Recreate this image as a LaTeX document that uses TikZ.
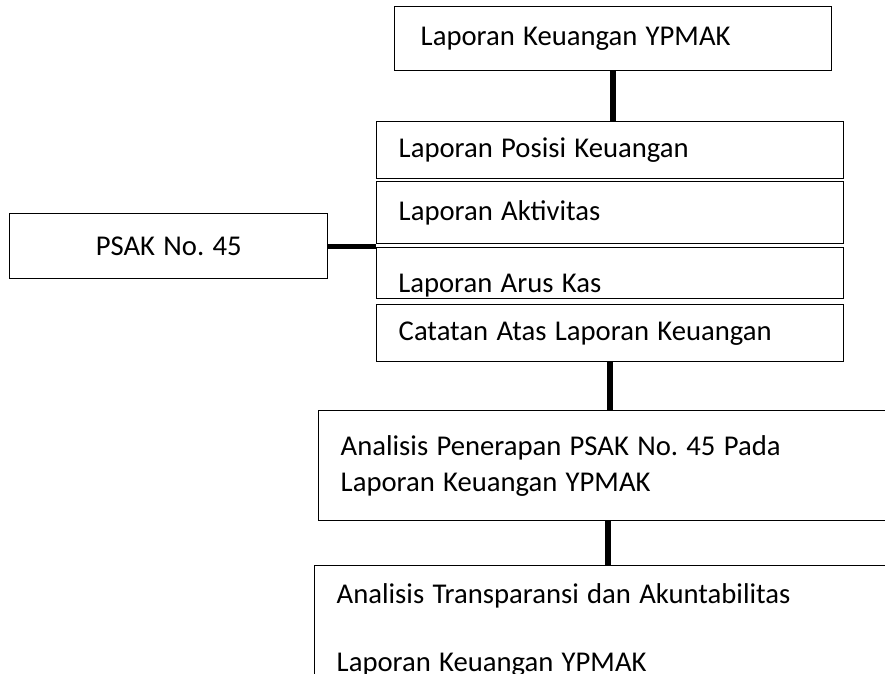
\documentclass[tikz,border=0pt]{standalone}
\usepackage{fontspec}
\setmainfont{Carlito}
\frenchspacing
\usetikzlibrary{calc}

\DeclareRobustCommand\boxfont{\fontsize{21.5pt}{27pt}\selectfont\spaceskip=0.29em\relax}

\tikzset{
  txt/.style={font=\boxfont},
  box/.style={txt, draw, line width=1.1pt, anchor=north west, align=flush left,
    inner ysep=0pt, inner xsep=16.5pt},
  link/.style={line width=4.5pt},
}

\begin{document}
\begin{tikzpicture}[x=0.75pt,y=-0.75pt]
  \useasboundingbox (0,0) rectangle (885,674);
  \clip (0,0) rectangle (885,674);
  %% top
  \node[box, inner xsep=19.5pt, text width=288.75pt, minimum height=48pt] (lapkeu) at (394,6) {Laporan Keuangan YPMAK};
  %% the four reports
  \node[box, text width=317.25pt, minimum height=42.75pt] (posisi) at (376,121) {Laporan Posisi Keuangan};
  \node[box, text width=317.25pt, minimum height=46.5pt] (aktivitas) at (376,181) {Laporan Aktivitas};
  \node[box, text width=317.25pt, minimum height=38.25pt] (arus) at (376,247) {};
  \begin{scope}
    \clip (arus.north west) rectangle (arus.south east);
    \node[txt, anchor=west, inner sep=0pt] (aruslabel) at ($(arus.west)+(16.5pt,-9pt)$) {Laporan Arus Kas};
  \end{scope}
  \node[box, text width=317.25pt, minimum height=42.75pt] (calk) at (376,304) {Catatan Atas Laporan Keuangan};
  %% psak
  \node[box, align=flush center, text width=205.5pt, minimum height=48.75pt] (psak) at (9,213) {PSAK No. 45};
  %% analysis
  \node[box, text width=417pt, minimum height=82.5pt] (penerapan) at (318,410) {Analisis Penerapan PSAK No. 45 Pada\\Laporan Keuangan YPMAK};
  \node[box, text width=417pt, minimum height=96pt] (transparansi) at (314,565) {Analisis Transparansi dan Akuntabilitas\\[24pt]Laporan Keuangan YPMAK};
  %% links
  \draw[link] (lapkeu.south) -- (lapkeu.south |- posisi.north);
  \draw[link, line width=3.5pt] (psak.east) -- (psak.east -| arus.west);
  \draw[link] (calk.south) -- (calk.south |- penerapan.north);
  \draw[link] ([xshift=-1.5pt]calk.south |- penerapan.south) -- ([xshift=-1.5pt]calk.south |- transparansi.north);
\end{tikzpicture}
\end{document}
